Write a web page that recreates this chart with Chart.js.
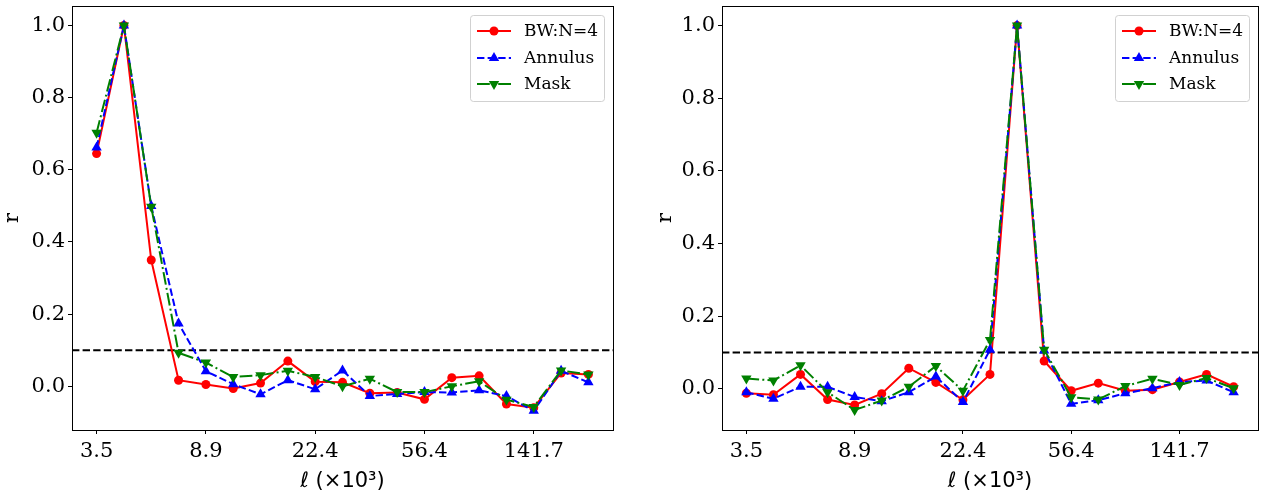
<!DOCTYPE html>
<html>
<head>
<meta charset="utf-8">
<script src="https://cdn.jsdelivr.net/npm/chart.js@4/dist/chart.umd.min.js"></script>
<style>
    body { margin: 0; background: #fff; }
    .panel { position: absolute; top: 0; width: 632px; height: 495px; }
</style>
</head>
<body>
<div class="panel" style="left:0"><canvas id="leftChart" width="632" height="495"></canvas></div>
<div class="panel" style="left:632px"><canvas id="rightChart" width="632" height="495"></canvas></div>
<script>
// ell bins (x10^3), only every 4th one gets a tick label
const ellLabels = ["3.5", "4.4", "5.6", "7.0", "8.9", "11.2", "14.1", "17.8", "22.4", "28.2",
    "35.5", "44.8", "56.4", "71.0", "89.4", "112.6", "141.7", "178.5", "224.7"];
const xTickIdx = [0, 4, 8, 12, 16];
const yTicks = [0.0, 0.2, 0.4, 0.6, 0.8, 1.0];
const threshold = 0.1;
const seriesNames = ["BW:N=4", "Annulus", "Mask"];

const leftBW = [0.645, 1.0, 0.35, 0.017, 0.005, -0.006, 0.009, 0.07, 0.013, 0.011,
    -0.019, -0.017, -0.036, 0.024, 0.029, -0.049, -0.059, 0.037, 0.033];
const leftAnnulus = [0.662, 1.0, 0.5, 0.174, 0.042, 0.006, -0.022, 0.017, -0.008, 0.044,
    -0.027, -0.021, -0.016, -0.017, -0.011, -0.027, -0.068, 0.043, 0.011];
const leftMask = [0.703, 1.0, 0.498, 0.093, 0.066, 0.026, 0.031, 0.043, 0.026, 0.0,
    0.021, -0.016, -0.016, 0.0, 0.014, -0.037, -0.057, 0.044, 0.033];

const rightBW = [-0.012, -0.016, 0.04, -0.029, -0.044, -0.013, 0.057, 0.018, -0.03, 0.04,
    1.0, 0.077, -0.005, 0.016, -0.005, -0.002, 0.019, 0.04, 0.006];
const rightAnnulus = [-0.009, -0.027, 0.006, 0.006, -0.022, -0.034, -0.009, 0.034, -0.036, 0.108,
    1.0, 0.106, -0.041, -0.031, -0.012, 0.002, 0.019, 0.023, -0.009];
const rightMask = [0.029, 0.023, 0.065, -0.009, -0.058, -0.032, 0.006, 0.063, -0.005, 0.135,
    1.0, 0.108, -0.023, -0.029, 0.008, 0.028, 0.011, 0.03, 0.002];

const styles = [
    { color: "#ff0000", dash: [], point: "circle", radius: 4.5, rotation: 0 },
    { color: "#0000ff", dash: [7.4, 3.2], point: "triangle", radius: 6, rotation: 0 },
    { color: "#008000", dash: [12.8, 3.2, 2, 3.2], point: "triangle", radius: 6, rotation: 180 },
];

document.addEventListener("DOMContentLoaded", function (event) {
    createPanel("leftChart", [leftBW, leftAnnulus, leftMask], -0.121, 1.054,
        { top: 6, right: 19, left: 0, bottom: 0 }, 72);
    createPanel("rightChart", [rightBW, rightAnnulus, rightMask], -0.113, 1.054,
        { top: 6, right: 2, left: 21, bottom: 0 }, 69);
});

function drawMarker(ctx, style, x, y) {
    ctx.save();
    ctx.fillStyle = style.color;
    ctx.beginPath();
    if (style.point === "circle") {
        ctx.arc(x, y, style.radius, 0, Math.PI * 2);
    } else {
        const r = style.radius;
        let a = style.rotation ? Math.PI : 0;
        ctx.moveTo(x + Math.sin(a) * r, y - Math.cos(a) * r);
        a += 2 * Math.PI / 3;
        ctx.lineTo(x + Math.sin(a) * r, y - Math.cos(a) * r);
        a += 2 * Math.PI / 3;
        ctx.lineTo(x + Math.sin(a) * r, y - Math.cos(a) * r);
        ctx.closePath();
    }
    ctx.fill();
    ctx.restore();
}

const extrasPlugin = {
    id: "extras",
    beforeDatasetsDraw(chart) {
        const ctx = chart.ctx;
        const area = chart.chartArea;
        const y = chart.scales.y.getPixelForValue(threshold);
        ctx.save();
        ctx.strokeStyle = "#000";
        ctx.lineWidth = 2;
        ctx.setLineDash([7.4, 3.2]);
        ctx.beginPath();
        ctx.moveTo(area.left, y);
        ctx.lineTo(area.right, y);
        ctx.stroke();
        ctx.restore();
    },
    afterDraw(chart) {
        const ctx = chart.ctx;
        const area = chart.chartArea;
        ctx.save();
        ctx.strokeStyle = "#000";
        ctx.lineWidth = 1;
        ctx.strokeRect(area.left + 0.5, area.top + 0.5, area.right - area.left, area.bottom - area.top);

        // legend box, upper right
        const w = 134, h = 86;
        const x0 = area.right - 9 - w;
        const y0 = area.top + 9;
        ctx.fillStyle = "rgba(255,255,255,0.8)";
        ctx.strokeStyle = "rgba(204,204,204,0.9)";
        ctx.beginPath();
        ctx.roundRect(x0 + 0.5, y0 + 0.5, w, h, 3);
        ctx.fill();
        ctx.stroke();
        ctx.font = "17px 'DejaVu Serif'";
        ctx.textBaseline = "middle";
        ctx.textAlign = "left";
        const rows = [16, 43, 69];
        seriesNames.forEach(function (name, i) {
            const st = styles[i];
            const ry = y0 + rows[i];
            ctx.strokeStyle = st.color;
            ctx.lineWidth = 2;
            ctx.setLineDash(st.dash);
            ctx.beginPath();
            ctx.moveTo(x0 + 7, ry);
            ctx.lineTo(x0 + 41, ry);
            ctx.stroke();
            ctx.setLineDash([]);
            drawMarker(ctx, st, x0 + 24, ry);
            ctx.fillStyle = "#000";
            ctx.fillText(name, x0 + 54, ry + 1);
        });
        ctx.restore();
    },
};

function createPanel(canvasId, series, yMin, yMax, padding, yWidth) {
    const ctx = document.getElementById(canvasId);
    const datasets = series.map(function (vals, i) {
        const st = styles[i];
        return {
            label: seriesNames[i],
            data: vals.map(function (v, k) { return { x: k, y: v }; }),
            borderColor: st.color,
            backgroundColor: st.color,
            borderWidth: 2,
            borderDash: st.dash,
            pointStyle: st.point,
            pointRadius: st.radius,
            pointRotation: st.rotation,
            pointBorderWidth: 0,
            pointBackgroundColor: st.color,
            tension: 0,
            order: 2 - i,
        };
    });
    const config = {
        type: "line",
        data: { datasets: datasets },
        options: {
            responsive: false,
            animation: false,
            devicePixelRatio: 1,
            layout: { padding: padding },
            plugins: {
                legend: { display: false },
                tooltip: { enabled: false },
            },
            scales: {
                x: {
                    type: "linear",
                    min: -0.9,
                    max: 18.9,
                    afterBuildTicks: function (scale) {
                        scale.ticks = xTickIdx.map(function (v) { return { value: v }; });
                    },
                    afterFit: function (scale) {
                        scale.height = 65;
                        scale.paddingLeft = 0;
                        scale.paddingRight = 0;
                    },
                    ticks: {
                        color: "#000",
                        padding: 5,
                        maxRotation: 0,
                        font: { family: "DejaVu Serif", size: 21 },
                        callback: function (value) { return ellLabels[value]; },
                    },
                    grid: { drawOnChartArea: false, drawTicks: true, tickLength: 4, color: "#000" },
                    border: { display: false },
                    title: {
                        display: true,
                        text: "\u2113 (\u00d710\u00b3)",
                        color: "#000",
                        font: { family: "DejaVu Sans", size: 21 },
                        padding: { top: 0, bottom: 1 },
                    },
                },
                y: {
                    min: yMin,
                    max: yMax,
                    afterBuildTicks: function (scale) {
                        scale.ticks = yTicks.map(function (v) { return { value: v }; });
                    },
                    afterFit: function (scale) {
                        scale.width = yWidth;
                        scale.paddingTop = 0;
                        scale.paddingBottom = 0;
                    },
                    ticks: {
                        color: "#000",
                        padding: 3,
                        font: { family: "DejaVu Serif", size: 21 },
                        callback: function (value) { return value.toFixed(1); },
                    },
                    grid: { drawOnChartArea: false, drawTicks: true, tickLength: 4, color: "#000" },
                    border: { display: false },
                    title: {
                        display: true,
                        text: "r",
                        color: "#000",
                        font: { family: "DejaVu Serif", size: 21 },
                        padding: { top: 0, bottom: 0 },
                    },
                },
            },
        },
        plugins: [extrasPlugin],
    };
    new Chart(ctx, config);
}
</script>
</body>
</html>
